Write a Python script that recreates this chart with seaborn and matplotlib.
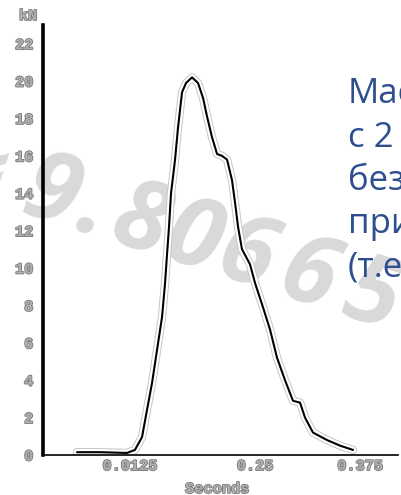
import matplotlib
matplotlib.use("Agg")
import matplotlib.pyplot as plt
import matplotlib.patheffects as pe
import numpy as np
import pandas as pd
import seaborn as sns

# ---- data ----
time_s = [0.038, 0.065, 0.0976, 0.107, 0.1155, 0.1214, 0.1274, 0.1333, 0.1393, 0.1429,
          0.1452, 0.1476, 0.15, 0.1548, 0.1583, 0.1631, 0.1679, 0.175, 0.1821, 0.1881,
          0.1929, 0.1988, 0.2048, 0.2107, 0.2167, 0.2226, 0.2262, 0.2298, 0.2345, 0.2405,
          0.244, 0.25, 0.2595, 0.2679, 0.2762, 0.2857, 0.2952, 0.3036, 0.3095, 0.319,
          0.3357, 0.3512, 0.3667]
force_kn = [0.15, 0.15, 0.11, 0.27, 0.96, 2.41, 3.85, 5.61, 7.38, 9.2,
            10.7, 12.2, 14.0, 15.8, 17.5, 19.4, 19.9, 20.2, 19.9, 19.1,
            18.1, 17.0, 16.1, 16.0, 15.8, 14.7, 13.5, 12.2, 11.0, 10.5,
            10.2, 9.2, 7.9, 6.7, 5.2, 4.0, 2.9, 2.8, 2.0, 1.2,
            0.8, 0.5, 0.27]
y_ticks = [0, 2, 4, 6, 8, 10, 12, 14, 16, 18, 20, 22]
x_tick_pos = [0.101, 0.25, 0.375]
x_tick_labels = ["0.0125", "0.25", "0.375"]
y_unit = "kN"
x_title = "Seconds"
slide_lines = ["Масса", "с 2", "без", "при", "(т.е."]
watermark = "≈9.80665"

sns.set_theme(style="white")
plt.rcParams["font.family"] = ["Liberation Mono", "DejaVu Sans"]

W, H = 402, 495
fig = plt.figure(figsize=(W / 100, H / 100), dpi=100)
fig.patch.set_facecolor("white")

# watermark behind everything, glyph by glyph along a slanted line
wm_x = [-22, 52, 94, 140, 193, 246, 308, 372]
for ch, px in zip(watermark, wm_x):
    py = 196 + 0.32 * (px - 52)
    fig.text(px / W, 1 - py / H, ch, fontsize=70, color="#d9d9d9",
             family=["Open Sans", "DejaVu Sans"], weight="bold", style="italic",
             rotation=-17.7, rotation_mode="anchor", ha="center", va="center",
             zorder=-5)

ax = fig.add_axes([43 / W, 1 - 455 / H, (398 - 43) / W, (455 - 25) / H])
ax.patch.set_alpha(0)

df = pd.DataFrame({"t": time_s, "F": force_kn})
sns.lineplot(data=df, x="t", y="F", ax=ax, color="black", lw=1.5, sort=False,
             estimator=None,
             path_effects=[pe.Stroke(linewidth=6.0, foreground="#c6c6c6"),
                           pe.Stroke(linewidth=4.6, foreground="white"),
                           pe.Normal()])

ax.set_xlim(-0.0024, 0.4202)
ax.set_ylim(0, 23.0)
ax.set_xticks(x_tick_pos)
ax.set_xticklabels(x_tick_labels)
ax.set_yticks(y_ticks)
ax.set_yticklabels([str(v) for v in y_ticks])
ax.set_xlabel("")
ax.set_ylabel("")

lab_fx = [pe.withStroke(linewidth=1.2, foreground="#7a7a7a")]
ax.tick_params(axis="both", length=0, labelsize=11, labelcolor="#b0b0b0")
ax.tick_params(axis="y", pad=7)
ax.tick_params(axis="x", pad=3)
for lab in ax.get_xticklabels() + ax.get_yticklabels():
    lab.set_fontweight("bold")
    lab.set_path_effects(lab_fx)

for s in ["top", "right"]:
    ax.spines[s].set_visible(False)
ax.spines["left"].set_linewidth(2.6)
ax.spines["left"].set_color("black")
ax.spines["bottom"].set_linewidth(1.2)
ax.spines["bottom"].set_color("black")

fig.text(28 / W, 1 - 16 / H, y_unit, fontsize=11, weight="bold", color="#b0b0b0",
         ha="center", va="center", path_effects=lab_fx)
fig.text(217 / W, 1 - 489 / H, x_title, fontsize=11, weight="bold", color="#b0b0b0",
         ha="center", va="center", path_effects=lab_fx)

baselines = [103, 147, 190, 233, 277]
for txt, yb in zip(slide_lines, baselines):
    fig.text(348 / W, 1 - yb / H, txt, fontsize=25, color="#2E4E8E",
             family=["Open Sans", "DejaVu Sans"], ha="left", va="baseline")

fig.savefig("out.png", dpi=100)
